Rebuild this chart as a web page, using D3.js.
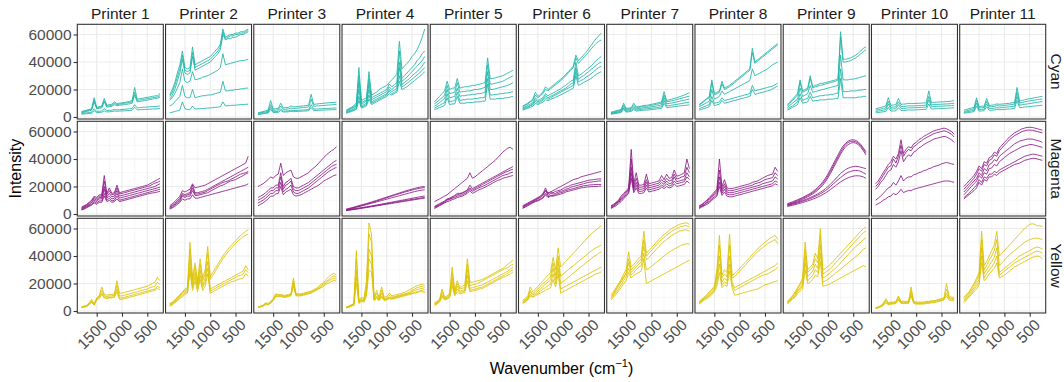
<!DOCTYPE html>
<html>
<head>
<meta charset="utf-8">
<script src="https://cdn.jsdelivr.net/npm/d3@7"></script>
<style>
  body { margin: 0; background: #fff; }
  text { font-family: "Liberation Sans", Arial, sans-serif; }
</style>
</head>
<body>
<svg id="chart" width="1064" height="382"></svg>
<script>
// Raman spectra of printer inks, one facet per printer (columns) and ink (rows).
// Every spectrum is sampled on the same wavenumber grid; intensities are in thousands of counts.
const wavenumbers = [1800,1750,1700,1650,1600,1550,1500,1450,1400,1350,1300,1250,1200,1150,1100,1050,
                     1000,950,900,850,800,750,700,650,600,550,500,450,400,350,300,250];
const printers = ["Printer 1","Printer 2","Printer 3","Printer 4","Printer 5","Printer 6",
                  "Printer 7","Printer 8","Printer 9","Printer 10","Printer 11"];
const inks = ["Cyan","Magenta","Yellow"];
const inkColors = ["#1fb3a6","#8c1a86","#dcc200"];
const xTicks = [1500,1000,500];
const xMinorTicks = [1750,1250,750,250];
const yTicks = [0,20000,40000,60000];
const yMinorTicks = [10000,30000,50000];

const cyanSpectra = [
  [ // Printer 1
    [4,4.5,5,5.5,6,14,7,7.5,8,13.5,8.5,9,9.3,11,9.8,10,10.3,10.6,11,11.3,12,21.5,13,13.3,13.6,14,14.3,14.6,15,15.3,15.6,17],
    [3.5,4,4.5,5,5.5,12.5,6.5,7,7.3,12,7.8,8.2,8.5,10,9,9.3,9.6,10,10.3,10.6,11,18,12,12.3,12.6,13,13.3,13.6,14,14.3,14.6,15.5],
    [3,3.5,4,4.5,5,11,6,6.3,6.6,11,7.2,7.5,7.8,9,8.2,8.5,8.8,9,9.3,9.6,10,16,11,11.3,11.6,12,12.3,12.6,13,13.3,13.6,14.5],
    [2.5,2.8,3,3.2,3.5,6,4,4.2,4.4,6,4.7,4.8,5,5.5,5.2,5.3,5.5,5.6,5.8,6,6.2,9,6.6,6.8,7,7.1,7.3,7.4,7.6,7.7,7.8,8],
    [2,2.2,2.4,2.6,2.8,4.5,3.2,3.3,3.5,4.5,3.7,3.8,4,4.3,4.2,4.3,4.4,4.5,4.6,4.7,4.9,7,5.2,5.3,5.4,5.5,5.6,5.7,5.8,5.9,6,6.2]
  ],
  [ // Printer 2
    [16,20,25,32,38,48,36,35,36,51,38,39,40,41,42,43,44,46,48,50,53,64,58,59,60,60,61,61,62,62,63,64],
    [15,18,23,29,35,45,34,33,34,47,36,37,38,39,40,41,42,44,46,48,51,62,57,58,59,59,60,60,61,61,62,63],
    [13,16,20,26,32,42,32,31,32,44,34,35,36,37,38,39,40,42,44,46,49,60,56,57,57,58,58,59,60,60,61,62],
    [12,14,17,21,25,35,26,25,26,33,27,27.5,28,29,29.5,30,31,32,33,34,36,46,38,38.5,39,39.5,40,40.5,41,41,41.5,42],
    [8,9,11,13,15,23,15,14,14,20,14,14.5,15,15.5,15.5,16,16,16.5,17,17.5,18,26,19,19,19.5,19.5,20,20,20.5,20.5,21,21],
    [3,3.5,4,4.5,5,11,6,5.5,5.5,8,5.8,6,6,6.2,6.3,6.5,6.6,6.8,7,7.2,7.5,11,8,8.2,8.4,8.5,8.6,8.8,9,9,9.2,9.3]
  ],
  [ // Printer 3
    [3,3.5,4,4.5,5,12,5.8,6,6.2,10,6.6,6.8,7,8,7.3,7.5,7.7,7.9,8.1,8.3,8.6,16.5,9.2,9.4,9.6,9.8,10,10.2,10.4,10.5,10.6,10.8],
    [2.7,3,3.4,3.8,4.2,9,4.8,5,5.2,8,5.5,5.7,5.9,6.5,6.2,6.4,6.5,6.7,6.9,7.1,7.3,13,7.8,8,8.1,8.3,8.4,8.6,8.7,8.8,9,9.1],
    [2.2,2.5,2.8,3.1,3.4,7,3.8,4,4.1,6,4.3,4.4,4.5,5,4.7,4.8,4.9,5,5.1,5.2,5.4,9,5.7,5.8,5.9,6,6.1,6.2,6.3,6.4,6.5,6.6],
    [1.8,2,2.3,2.6,2.9,5.5,3.2,3.3,3.4,4.8,3.6,3.7,3.8,4.1,3.9,4,4.1,4.2,4.3,4.4,4.5,7,4.7,4.8,4.9,5,5,5.1,5.2,5.3,5.3,5.4]
  ],
  [ // Printer 4
    [5,6,7,8.5,10,36,12,13,14,33,16,17,18,20,21,22,23,25,27,29,31,55,35,37,39,41,44,46,49,53,58,64],
    [4.5,5.5,6.5,7.5,9,30,10.5,11.5,12.5,28,14,15,16,17,18,19,20,24,22,23.5,25,48,28,30,32,34,36,38,41,43,46,48],
    [4,5,6,7,8,25,9.5,10.5,11.5,24,12.5,13.5,14.5,15.5,16.5,17.5,18.5,22,20,21.5,23,40,26,27.5,29,31,33,35,37,39,41,44],
    [3.5,4.3,5,6,7,20,8.3,9,10,20,11,12,13,14,15,16,17,20,18.5,19.5,21,36,23.5,25,26.5,28,30,31.5,33,35,37,40],
    [3,3.8,4.5,5.3,6.2,15,7.3,8,9,16,10,11,12,13,14,15,16,19,17,18,19.5,30,22,23,24.5,26,27.5,29,30.5,32,34,36],
    [2.8,3.3,4,4.7,5.5,12,6.5,7.2,8,13,9,10,11,12,13,14,15,17,16,17,18,26,20,21,22,23.5,25,26.5,28,29.5,31,33]
  ],
  [ // Printer 5
    [11,13,15,17,19,26,20,21,21,28,21,21.5,22,22,22.5,23,23,23.5,24,24.5,25,43,28,28,28.5,29,29.5,30,31,32,33,34],
    [9.5,11,12.5,14,16,23,17,17.5,18,25,18,18.5,18.5,19,19,19.5,20,20,20.5,21,21.5,38,24,24,24.5,25,25.5,26,27,28,29,30],
    [8,9,10.5,12,13.5,20,14,14.5,15,21,15,15.5,15.5,16,16,16.5,16.5,17,17,17.5,18,33,20,20,20.5,21,21.5,22,22.5,23,24,25],
    [6.5,7.5,8.5,9.5,10.5,17,11,11.5,12,18,12,12.5,12.5,13,13,13,13.5,13.5,14,14,14.5,28,16,16,16.5,16.5,17,17,17.5,17.5,18,18.5],
    [5.5,6,7,7.5,8.5,14,9,9.5,9.5,15,10,10,10,10.5,10.5,10.5,11,11,11,11.5,11.5,24,13,13,13,13.5,13.5,13.5,14,14,14.5,15]
  ],
  [ // Printer 6
    [8,9,10,11.5,13,18,15,16.5,18,22,20,21.5,23,24.5,26,27.5,29,31,33,35,37,45,41,43,45,47,49.5,52,54.5,57,59,61],
    [7.5,8.5,9.5,11,12,16,14,15.5,17,20,19,20.5,22,23.5,25,26.5,28,30,32,34,36,43,39,41,43,45,47,49.5,51.5,53.5,55,56],
    [6.5,7.5,8.5,9.5,10.5,14,12,13,14,17,15.5,16.5,17.5,18.5,19.5,20.5,22,23,24.5,26,27,40,30,31,32.5,34,35.5,37,39,41,42.5,44],
    [6,7,7.5,8.5,9.5,12.5,11,12,13,15.5,14,15,16,17,18,19,20,21,22.5,24,25,36,27.5,29,30,31.5,33,34.5,36,37.5,39,40],
    [5.5,6.3,7,8,8.8,11.5,10,11,12,14,13,14,15,16,17,18,19,20,21,22,23,33,25.5,26.5,27.5,29,30,31.5,33,34.5,36,37],
    [5,5.7,6.3,7,7.8,10,9,10,10.8,12.5,12,12.8,13.6,14.4,15.2,16,17,18,19,20,21,30,23,24,25,26,27,28,29.5,31,32,33]
  ],
  [ // Printer 7
    [3.5,4,4.5,5,5.5,10,6.2,6.5,6.8,10,7.3,7.6,7.9,8.5,8.5,8.8,9.2,9.6,10,10.5,11,18.5,12,12.5,13,13.5,14,14.7,15.3,16,16.8,17.7],
    [3,3.5,4,4.5,5,8.5,5.6,5.9,6.2,8.5,6.7,7,7.3,7.8,7.8,8.1,8.4,8.8,9.2,9.6,10,16,11,11.4,11.8,12.2,12.7,13.2,13.7,14.2,14.7,15.2],
    [2.7,3.1,3.5,3.9,4.3,7.5,4.9,5.2,5.5,7.5,5.9,6.2,6.4,6.8,6.9,7.1,7.4,7.7,8,8.4,8.7,14,9.5,9.9,10.2,10.6,11,11.4,11.8,12.2,12.6,13],
    [2.4,2.7,3,3.4,3.7,6.5,4.2,4.5,4.7,6.5,5.1,5.3,5.5,5.8,5.9,6.1,6.3,6.6,6.8,7.1,7.4,12,8,8.3,8.6,8.9,9.2,9.5,9.8,10.2,10.5,10.8],
    [2,2.3,2.6,2.9,3.2,5.5,3.6,3.8,4,5.5,4.3,4.5,4.7,5,5,5.2,5.4,5.6,5.8,6,6.3,10,6.8,7,7.2,7.5,7.7,8,8.2,8.4,8.6,8.8]
  ],
  [ // Printer 8
    [9,10.5,12,13.5,15,27,17,18,19,26,21,22,23,24.5,26,27.5,29,30.5,32,33.5,35,50,40,41.5,43,44.5,46,47.5,49,50.5,52,53.5],
    [8.5,10,11.5,13,14,25,16,17,18,24,20,21,22,23.5,25,26.5,28,29.5,31,32.5,34,47,39,40.5,42,43.5,45,46.5,48,49.5,51,52.5],
    [7.5,8.5,9.5,10.5,11.5,20,13,14,15,19,16.5,17.5,18.5,19.5,20.5,21.5,22.5,23.5,24.5,25.5,26.5,35,30,31,32,33,34,35,36.5,38,39,40],
    [6,6.8,7.5,8.3,9,15,10,10.5,11,14,12,12.5,13,13.5,14,14.5,15,15.5,16,16.5,17,23,19,19.5,20,20.5,21,21.5,22,22.5,23.5,24.5],
    [5,5.6,6.2,6.8,7.5,12,8.3,8.8,9.3,12,10,10.5,11,11.5,12,12.5,13,13.5,14,14.5,15,20,16.5,17,17.5,18,18.5,19,19.5,20.5,21.5,22.5]
  ],
  [ // Printer 9
    [9,11,13,15,17,27,19,20,21,30,22,23,23.5,24.5,24.5,25,25.5,26,26.5,27,28,62,42,42,42.5,43,44,45,46.5,48,50,51],
    [8,10,12,14,16,25,18,19,20,28,21,22,22.5,23,23.5,24,24.5,25,25.5,26,27,58,40,40,40.5,41,42,43,44.5,46,47.5,49],
    [7,8.5,10,11.5,13,21,15,16,17,23,18,18.5,19,19.5,20,20.5,21,21.5,22,22.5,23,45,27,27,27,27.5,27.5,28,28.5,29,29.5,30],
    [6,7,8,9.5,11,17,12,13,13.5,18,14,14.5,15,15.5,15.5,16,16,16.5,16.5,17,17.5,35,18.5,18.5,18.5,19,19,19,19.5,19.5,20,20],
    [5,6,7,8,9,14,10,10.5,11,15,11.5,12,12,12.5,12.5,12.5,13,13,13,13.5,13.5,28,14,14,14,14,14,14,14.5,14.5,15,15]
  ],
  [ // Printer 10
    [6,6.5,7,7.5,8,14,8.5,8.7,9,13.5,9.2,9.4,9.5,10,9.7,9.8,9.9,10,10.1,10.2,10.3,19,10.6,10.7,10.8,10.9,11,11.1,11.2,11.3,11.5,12],
    [5,5.4,5.8,6.2,6.6,11.5,7,7.2,7.4,11,7.6,7.7,7.8,8.2,8,8.1,8.2,8.3,8.4,8.5,8.6,15,8.9,9,9.1,9.2,9.3,9.4,9.5,9.6,9.8,10],
    [4,4.3,4.6,5,5.3,9.5,5.7,5.9,6,9,6.2,6.3,6.4,6.7,6.6,6.7,6.8,6.9,7,7.1,7.2,12.5,7.5,7.6,7.7,7.8,7.9,8,8.1,8.2,8.3,8.5],
    [3,3.2,3.5,3.8,4,7,4.3,4.4,4.5,6.8,4.7,4.8,4.9,5.2,5,5.1,5.2,5.3,5.4,5.5,5.6,9.5,5.8,5.9,6,6.1,6.2,6.3,6.4,6.5,6.6,6.8]
  ],
  [ // Printer 11
    [5,5.5,6,6.5,7,14,7.5,7.8,8,13.5,8.4,8.6,8.8,9.5,9.2,9.4,9.6,9.8,10,10.3,10.6,21.5,11.5,12,12.5,13,13.3,13.6,14,14.3,14.7,15],
    [4,4.5,5,5.5,6,12,6.5,6.7,7,11.5,7.3,7.5,7.7,8.3,8,8.2,8.4,8.6,8.8,9.1,9.4,18,10.2,10.6,11,11.4,11.7,12,12.3,12.6,12.9,13],
    [3.3,3.7,4.1,4.5,4.9,10,5.3,5.5,5.7,9.5,6,6.2,6.4,6.8,6.6,6.8,7,7.2,7.4,7.6,7.9,15,8.6,8.9,9.2,9.5,9.8,10.1,10.4,10.7,11,11.2],
    [2.7,3,3.3,3.6,3.9,8,4.2,4.4,4.6,7.5,4.8,5,5.1,5.5,5.3,5.4,5.5,5.7,5.8,6,6.2,12,6.8,7,7.2,7.4,7.6,7.8,8,8.2,8.4,8.6]
  ]
];

const magentaSpectra = [
  [ // Printer 1
    [5,6,7,8.5,10,13,12,14,14,28,15,19,15,15.5,21,15.5,16,16.5,17,17.5,18,18.5,19,19.5,20,20.5,21,22,23,24,25,26],
    [4.5,5.5,6.5,8,9.5,12,11,13,13,24,14,17,14,14.5,19,14.5,15,15.5,16,16.5,17,17.5,18,18.5,19,19.5,20,20.5,21.5,22.5,23,24],
    [4,5,6,7,8.5,11,10,12,12,20,12.5,15,12.5,13,17,13,13.5,14,14.5,15,15.5,16,16.5,17,17.5,18,18.5,19,19.5,20,21,22],
    [3.5,4.5,5.5,6.5,8,10,9,11,11,18,11.5,13,11,11.5,15,11.5,12,12.5,13,13.5,14,14.5,15,15.5,16,16.5,17,17.5,18,18.5,19,19.5],
    [3,4,5,6,7,9,8,9.5,9.5,15,10,11.5,9.5,10,13,10,10.5,11,11.5,12,12.5,13,13.5,14,14.5,15,15.5,16,16.5,17,17.5,18],
    [3,3.5,4.5,5.5,6.5,8,7,8.5,8.5,13,9,10,8.5,9,11,9,9.5,10,10.5,11,11.5,12,12.5,13,13.5,14,14.5,15,15.3,15.6,16,16.5]
  ],
  [ // Printer 2
    [6,7.5,9,11,13,17,16,17,18,22,19,19.5,20,20.5,21,22,23,24,25,26,27,28,29,30,31,32,33,34,35,36,37,42],
    [5,6.5,8,9.5,11.5,15,14,15,15.5,21,15.5,15.5,16,16.5,17,18,19,20,21,22,23,24,25,26,27,28,29,30,31,32,33,34],
    [4.5,6,7,8.5,10.5,14,13,14,14.5,19,14.5,14.5,15,15.5,16,17,18,19,20,21,22,23,23.5,24,25,26,27,28,29,29.5,30,31],
    [4,5,6.5,8,9.5,13,12,13,13,17,13.5,13.5,14,14.5,15,15.5,16.5,17.5,18.5,19.5,20.5,21,22,23,24,24.5,25,26,27,28,29,30],
    [3.5,4.5,5.5,7,8.5,11,10,11,11,14,11.5,11.5,12,12.5,13,13.5,14,14.5,15,15.5,16,16.5,17,17.5,18,18.5,19,19.5,20,20.5,21,22]
  ],
  [ // Printer 3
    [20,21,22,23.5,25,27,26,28,29,37,28,30,31,32,27,26,26,27,28,29,30,32,33.5,35,37,39,41,43,44.5,46,47,49],
    [12,13,14,15.5,17,19,19,21,21,30,20,23,24,26,20,19,19,20,21,22,23,24.5,26,27.5,29,30.5,32,33.5,35,36.5,38,39],
    [10,11,12,13.5,15,17,17,19,19,27,18,21,22,24,18,17,17,18,19,20,21,22.5,24,25.5,27,28.5,30,31.5,33,34.5,35.5,36],
    [8,9,10,11.5,13,15,15,17,17,23,16,18,19,21,16,15,15,16,17,18,19,20.5,22,23.5,25,26.5,28,29.5,31,32,33,34],
    [6,7,8,9.5,11,13,13,14.5,15,20,14,16,17,18,14,13,13.5,14,15,16,17,18,19,20,21,22.5,24,25,26,27,28,28.5]
  ],
  [ // Printer 4
    [3.6,4,4.5,5,5.5,6.1,6.6,7.1,7.6,8.2,8.7,9.3,9.9,10.5,11.1,11.7,12.3,12.9,13.5,14.1,14.7,15.3,15.9,16.5,17.1,17.6,18.1,18.6,19.1,19.5,19.8,20],
    [3.3,3.7,4.2,4.7,5.2,5.7,6.2,6.7,7.2,7.7,8.3,8.8,9.4,10,10.6,11.2,11.8,12.4,13,13.6,14.2,14.8,15.3,15.9,16.4,16.9,17.4,17.9,18.3,18.7,19,19.2],
    [3,3.4,3.8,4.3,4.8,5.3,5.8,6.3,6.8,7.3,7.8,8.3,8.8,9.3,9.8,10.3,10.8,11.3,11.8,12.3,12.8,13.3,13.8,14.3,14.8,15.3,15.8,16.3,16.7,17.1,17.4,17.6],
    [2.8,3.1,3.4,3.7,4,4.3,4.6,4.9,5.2,5.5,5.8,6.2,6.5,6.9,7.2,7.6,7.9,8.3,8.6,9,9.3,9.7,10,10.4,10.7,11.1,11.4,11.8,12.1,12.5,12.8,13.1],
    [2.6,2.9,3.2,3.5,3.8,4.1,4.4,4.7,5,5.3,5.6,5.9,6.2,6.5,6.9,7.2,7.5,7.8,8.1,8.5,8.8,9.1,9.4,9.7,10,10.3,10.6,10.9,11.2,11.5,11.8,12],
    [2.4,2.7,3,3.2,3.5,3.8,4.1,4.4,4.7,5,5.3,5.6,5.9,6.2,6.5,6.8,7.1,7.4,7.7,8,8.3,8.6,8.9,9.2,9.5,9.8,10.1,10.4,10.7,11,11.3,11.5]
  ],
  [ // Printer 5
    [9,10,11,12,13,14,15.5,17,18.5,20,21.5,23,24.5,26,30,26,27,28.5,30,31.5,33,34.5,36,37.5,39,41,43,45,46.5,48,48.5,47],
    [5.5,6.5,7.5,8.5,9.5,11,11.5,12.5,13.5,15,15,15.5,16.5,17.5,21,18.5,19.5,20.5,21.5,22.5,23.5,24.5,25.5,26.5,27.5,28.5,29.5,30.5,31.5,32.5,33.5,34.5],
    [5,6,7,8,9,10.5,11,12,13,14,14.5,15,16,17,19,17.5,18.5,19.5,20.5,21.5,22.5,23.5,24.5,25.5,26.5,27.5,28.5,29.5,30.5,31,32,32.5],
    [4.5,5.5,6.5,7.5,8.5,10,10.5,11.5,12,13,13.5,14,15,16,18,16.5,17.5,18.5,19.5,20,21,22,23,24,25,26,27,28,28.5,29,30,30.5],
    [4,5,6,7,8,9,9.5,10.5,11,12,12.5,13,14,15,17,15,16,17,18,18.5,19.5,20.5,21.5,22.5,23.5,24.5,25,26,26.5,27,27.5,28]
  ],
  [ // Printer 6
    [6,7,8,9,10,11,12,13,15,17,15.5,16,17,18,19,20,21,22,23,24,25,25.5,26,27,27.5,28,28.5,29,29.5,30,30.5,31],
    [5.5,6.5,7.5,8.5,9.5,10.5,11.5,12.5,14.5,19,14.5,16,15.5,16.5,17,17.5,18.5,19.5,20,21,21.5,22,22.5,23,23.5,24,24.5,24.8,25,25.3,25.5,25.5],
    [5,6,7,8,9,10,11,12,13.5,17,13.5,15,14.5,15,16,16.5,17,18,18.5,19.5,20,20.5,21,21.5,22,22.5,23,23.2,23.5,23.7,24,24],
    [4.5,5.5,6.5,7.5,8.5,9.5,10,11,12,15,12.5,13.5,13.5,14,15,15.5,16,17,17.5,18,18.5,19,19.5,20,20.5,20.7,21,21.2,21.3,21.5,21.5,21.5],
    [4,5,6,7,8,9,9.5,10.5,11.5,14,12,13,13,13.5,14,14.5,15,16,16.5,17,17.5,18,18.5,19,19.2,19.5,19.7,19.9,20,20,20.2,20.3]
  ],
  [ // Printer 7
    [6,7,8.5,10,13,15,17,19,47,22,30,21,21,21.5,29,22,22.5,23,23.5,24,28,25,29,26,26.5,32,27.5,28,29,30,40,33],
    [5.5,6.5,8,9.5,12,14,16,18,40,20,26,19.5,19.5,20,25,20.5,21,21.5,22,22.5,25,23,26,24,24.5,29,25.5,26,27,27.5,34,30],
    [5,6,7.5,9,11,13,15,17,34,18.5,23,18,18,18.5,23,19,19.5,20,20.5,21,23,21.5,24,22,22.5,27,23.5,24,24.5,25,30,27],
    [4.5,5.5,7,8.5,10,12,14,16,30,17,21,16.5,16.5,17,21,17.5,18,18.5,19,19.5,21,20,22,20.5,21,24,22,22.5,23,23.5,27,25],
    [4,5,6,7.5,9,11,13,15,26,15.5,19,15,15,15.5,19,16,16.5,17,17.5,18,19.5,18.5,20,19,19.5,22,20,20.5,21,21.5,24,22.5]
  ],
  [ // Printer 8
    [6,7,8.5,10,12,14,16,18,40,20,25,19,18.5,18.5,19,19.5,20,20.5,21,21.5,22,23,23.5,24,25,26,27,28,28.5,29,34,31],
    [5.5,6.5,8,9.5,11,13,15,17,32,18,22,17.5,17,17,17.5,18,18.5,19,19.5,20,20.5,21,22,22.5,23,24,25,25.5,26,26.5,30,28],
    [5,6,7,8.5,10,12,14,15.5,27,16.5,20,16,15.5,15.5,16,16.5,17,17.5,18,18.5,19,19.5,20,20.5,21,22,22.5,23,23.5,24,27,25.5],
    [4.5,5.5,6.5,8,9,11,12.5,14,23,15,18,14.5,14,14,14.5,15,15.5,16,16.5,17,17.5,18,18.5,19,19.5,20,20.5,21,21.5,22,24,23],
    [4,5,6,7,8,10,11.5,13,20,13.5,16,13,12.5,12.5,13,13.5,14,14.5,15,15.5,16,16.5,17,17.5,18,18.5,19,19.5,20,20.5,22,21]
  ],
  [ // Printer 9
    [7.5,8.2,8.9,9.6,10.4,11.2,12,13,14,15,16.3,17.7,19.3,21.2,23.5,26,29,32.5,36,39.5,43,46.5,49.5,51.5,53,53.8,54,53.5,52.5,50.5,48,45.5],
    [7,7.6,8.3,9,9.8,10.6,11.4,12.3,13.3,14.3,15.5,16.8,18.3,20.2,22.3,24.8,27.7,31,34.5,38,41.5,45,48,50.5,52,52.8,53,52.5,51.5,49.5,47,44.5],
    [6.5,7.1,7.7,8.4,9.1,9.9,10.7,11.6,12.5,13.5,14.6,15.9,17.4,19.1,21,23.5,26.3,29.5,33,36.5,40,43.5,46.5,49,50.5,51.5,52,51.5,50.5,48.5,46,43],
    [6.5,7,7.5,8,8.6,9.2,9.8,10.5,11.2,12,12.8,13.7,14.7,15.8,17,18.4,20,21.7,23.5,25.5,27.5,29.5,31,32.3,33.3,34,34.5,34.7,34.5,34,33.5,33],
    [6,6.5,7,7.5,8,8.6,9.2,9.8,10.5,11.2,12,12.8,13.7,14.7,15.8,17,18.4,20,21.7,23.3,25,26.5,28,29.3,30.3,31,31.5,31.7,31.5,31,30,29],
    [5.5,5.9,6.3,6.8,7.3,7.8,8.3,8.9,9.5,10.1,10.8,11.5,12.3,13.2,14.2,15.3,16.5,17.8,19.2,20.6,22,23.3,24.5,25.5,26.3,27,27.5,27.8,27.8,27.5,27,26]
  ],
  [ // Printer 10
    [22,24,27,30,33,36,38,42,40,44,54,44,47,49,48,51,52,54,55,56.5,57.5,58.5,59.5,60.5,61,61.5,62,62.5,62,61,60,58],
    [20,22,25,28,31,34,35,40,37,42,50,42,45,47,46,49,50,52,53,54.5,55.5,56.5,57.5,58.5,59,59.5,60,60.5,60,59,58,56],
    [18,20,23,25,28,31,32,36,34,38,46,38,41,43,42,45,46,48,49,50.5,51.5,52.5,53.5,54.5,55,55.5,56,56.5,56,55,54,52],
    [10,11.5,13,15,17,19,20,23,21,24,28,24,26,27,27,28.5,29,30,30.5,31.5,32,33,33.5,34.5,35,35.5,36.5,37,37.5,37,36.5,36],
    [6.5,7.5,8.5,10,11,12.5,13,15,14,15.5,18,15.5,16.5,17,17,18,18.5,19,19.5,20,20.5,21,21.5,22,22.5,23,23.5,24,24,24,23.5,23]
  ],
  [ // Printer 11
    [20,22,24,26,28,31,35,33,38,37,41,42,45,44,48,50,52,54,56,57.5,59,60,61,62,62.5,63,63,63,62.5,62,61.5,61],
    [18,20,22,24,26,29,33,31,36,35,39,40,43,42,46,48,50,52,54,55.5,57,58,59,60,60.5,61,61,61,60.5,60,59.5,59],
    [16,18,20,22,24,26,30,28,33,31.5,36,37,39.5,38.5,42,43.5,45,46.5,48,49.5,51,52,53,53.5,54,54.5,54.5,54.5,54,53.5,53,52],
    [14,16,18,20,22,24,28,26,30,29,33,33.5,36,35,38,39.5,41,42.5,44,45,46,47,48,49,49.5,50,50.5,50.5,50,49.5,49,48.5],
    [12,13.5,15,17,19,21,25,23,27,26,29,29,31,30,32,33,34,35,36,37,38,39,40,41,42,42.5,43,43.5,43.5,43,42.5,42],
    [11,12.5,14,15.5,17,19,23,21,25,24,27,27,29,28,30,31,32,33,34,35,36,36.5,37,38,39,39.5,40,40.5,40.5,40,39.5,39]
  ]
];

const yellowSpectra = [
  [ // Printer 1
    [3,3.5,4,6,8.5,5,9.5,11,17.5,12,11.5,12,12,12.5,22,13,13,13.5,14,14.5,15,15.5,16,16.5,17,17.5,18,19,20,21,24.5,22],
    [2.8,3.3,3.8,5.5,7.5,4.8,9,10.5,15,11,10.5,11,11,11.5,19,11,11,11.5,12,12.5,13,13.5,14,14.5,15,15.5,16,17,17.5,18,21,19],
    [2.6,3,3.5,5,7,4.5,8.5,10,13,10,9.5,10,10,10.5,16,9.5,9.5,10,10.5,11,11.5,12,12.5,13,13.5,14,14.5,15,15.5,16,18,17],
    [2.5,2.8,3.2,4.5,6.5,4.2,8,9,12,9.5,9,9.5,9.5,10,14,8.5,8.5,9,9.5,10,10.5,11,11.5,12,12.5,13,13.5,14,14.5,15,16.5,15.5]
  ],
  [ // Printer 2
    [5.5,6.5,8,10,12,14,16,17,50,24,35,22,38,24,30,47,25,28,31,34,37,40,42.5,45,47,49,51,53,55,56.5,58,59],
    [5,6,7.5,9.5,11.5,13.5,15,16,45,22,32,20,34,22,27,42,23,26,29,32,35,38,40.5,43,45,47,49,51,52.5,54,55,56],
    [4.5,5.5,7,9,11,12.5,14,15,38,19,28,18,30,19,24,36,16,17,18,19,20,21,22,23,24,25,26,27,28,29,33,30],
    [4,5,6.5,8,10,11.5,13,14,32,17,25,16,26,17,21,31,14.5,15.5,16.5,17.5,18.5,19.5,20.5,21.5,22.5,23.5,24.5,25.5,26,27,30,28],
    [3.5,4.5,6,7.5,9,10.5,12,13,28,15,22,14,23,15,18,27,13,14,15,16,17,18,19,20,21,21.5,22,23,23.5,24,27,25.5]
  ],
  [ // Printer 3
    [3,3.5,4.2,6,5.5,7,9,12.5,12,12,11.5,11.5,12,12.5,24,13,12.5,12.5,13,13.5,14,14.5,15.5,16.5,18,19.5,21,23,25,26.5,27.5,26],
    [2.8,3.3,4,5.5,5,6.5,8.5,12,11.5,11.5,11,11,11.5,12,22,12,12,12,12.5,13,13.5,14,15,16,17,18.5,20,21.5,23,24.5,25.5,24.5],
    [2.6,3.1,3.8,5,4.8,6,8,11,11,11,10.5,10.5,11,11.5,20,11.5,11.5,11.5,12,12.5,13,13.5,14.5,15.5,16.5,17.5,19,20.5,22,23,24,23],
    [2.4,2.9,3.5,4.5,4.5,5.5,7.5,10.5,10.5,10.5,10,10,10.5,11,18,11,11,11,11.5,12,12.5,13,14,15,16,17,18,19.5,20.5,21.5,22.5,21.5]
  ],
  [ // Printer 4
    [3,3.5,4.5,5.5,44,8,10,9,22,64,56,10,15,10,17.5,10,10.5,13,11,11.5,12,12.5,13,13.5,14.5,15.5,16.5,17.5,18.5,19,19.5,18.5],
    [2.8,3.3,4.2,5,38,7,9,8,18,56,50,9,13,9,15,9,9.5,11.5,10,10.5,11,11.5,12,12.5,13,14,15,16,17,17.5,18,17],
    [2.6,3.1,4,4.8,30,6.5,8,7.5,15,45,40,8.5,11,8.5,13,8.5,9,10,9.5,10,10.5,11,11.5,12,12.5,13,14,15,15.5,16,16.5,15.5],
    [2.4,2.9,3.7,4.5,25,6,7.5,7,13,38,34,8,10,8,11,8,8.5,9.5,9,9.5,10,10.5,11,11.5,12,12.5,13,13.5,14,14.5,15,14],
    [2.2,2.7,3.5,4.2,20,5.5,7,6.5,11,30,28,7.5,9,7.5,10,7.5,8,9,8.5,9,9.5,10,10.5,11,11.5,12,12.5,13,13.5,14,14,13.5]
  ],
  [ // Printer 5
    [6,7,8.5,16,10,11,13,32,15,22,17,18,19,38,21,21,21.5,22,22.5,23,24,25,26,27,28,29,30,31,32.5,34,35.5,37],
    [5.5,6.5,8,14,9.5,10,12,28,14,20,16,16.5,17,34,18.5,19,19.5,20,21,22,23,24,25,26,27,28,29,30,31,31.5,33,34],
    [5,6,7.5,12,9,9.5,11,24,13,18,14.5,15,15.5,30,16.5,17,17.5,18,18.5,19,20,21,22,23,24,25,26,27,28,29,30.5,32],
    [4.5,5.5,7,11,8.5,9,10.5,21,12,16,13.5,14,14.5,26,15,15.5,16,16.5,17,17.5,18.5,19.5,20.5,21.5,22.5,23.5,24.5,25.5,26.5,27.5,29,30],
    [4,5,6.5,10,8,8.5,10,18,11,14,12.5,13,13.5,22,14,14.5,15,15.5,16,16.5,17.5,18.5,19.5,20.5,21.5,22.5,23.5,24.5,25,26,27,28.5]
  ],
  [ // Printer 6
    [8,9,11,17.5,14,16,18,20,22,24,26,28,39,30,46,32,34,36,38,40,42,44,46,48,50,52,54,56,57.5,59,60.5,62],
    [7,8,10,15,12.5,14.5,16,18,20,21.5,23,25,35,26,40,25,27,28.5,30,31.5,33,34.5,36,37.5,39,40.5,42,43.5,45,46,47,48],
    [6.5,7.5,9,14,11.5,13,14.5,16,18,19.5,21,22.5,31,23,36,20,21.5,23,24.5,26,27.5,29,30.5,32,33.5,35,36.5,38,39.5,40.5,42,43],
    [6,7,8.5,12,10.5,12,13,14.5,16,17,18.5,19.5,27,20,31,16,17,18,19,20,21,22,23,24,25,26,27,28,29,30,31,32],
    [5.5,6.5,8,11,10,11,12,13,14,15,16,17,23,17.5,27,13,14,15,16,17,18,19,20,21,22,23,24,25,26,27,27.5,28.5]
  ],
  [ // Printer 7
    [12,14,17,20,23,27,30,43,32,34,36,38,40,58,42,44,46,48,50,52,54,55.5,57,58.5,60,61,62,63,63.5,64,64,63],
    [11,13,16,19,22,25,28,38,30,32,34,36,38,52,40,42,44,46,48,50,52,53.5,55,56.5,58,59,60,61,61.5,62,62,61],
    [10,12,15,18,21,24,27,35,28,30,32,34,36,47,37,39,41,43,45,47,49,50.5,52,53.5,55,56,57,58,58.5,59,59,58],
    [9,11,13.5,16,19,22,25,31,26,28,30,32,33,42,30,31,32.5,34,35.5,37,38.5,40,41.5,43,44,45,46,47,48,48.5,49,48.5],
    [8,10,12,14.5,17,20,22,28,24,26,27,28,29,38,20,21,22,23,24,25,26,27,28,29,30,31,32,33,34,35,36,37]
  ],
  [ // Printer 8
    [7,8.5,10,12,14,16,18,30,55,26,30,28,56,26,27,29,31,33,35,37,39,41,43,45,47,48.5,50,51.5,53,54,55,52],
    [6.5,8,9.5,11,13,15,17,27,48,24,27,25,48,24,25,27,29,31,33,35,37,39,41,43,44.5,46,47.5,49,50,51,52,49],
    [6,7.5,9,10.5,12,14,16,24,40,21,24,22,40,21,17,18,19,20,21,22,23,24,25,26,27,28,29,30,31,32,33,35],
    [5.5,7,8.5,10,11,13,15,21,34,19,21,20,34,19,15,16,17,18,19,20,21,22,23,24,25,26,26.5,27,28,29,30,32],
    [5,6.5,8,9,10,12,14,18,28,17,19,18,29,17,11.5,12,12.5,13,13.5,14,14.5,15,15.5,16,17,18,19,19.5,20,21,21.5,22]
  ],
  [ // Printer 9
    [7,9,11,14,17,20,24,50,30,32,34,42,38,60,30,31,32.5,34,36,38,40,42,44,46,48,50,52,54,56,58,60,61],
    [6.5,8.5,10.5,13,16,19,22,45,28,30,32,38,35,55,27,28,29.5,31,33,35,37,39,41,43,45,47,49,51,53,55,57,58],
    [6,8,10,12,15,17,20,40,25,27,29,34,31,48,24,25,26.5,28,29.5,31,33,35,37,39,41,43,45,47,48.5,50,52,53],
    [5.5,7.5,9,11,14,16,18,35,22,24,26,30,28,42,21,22,23,24.5,26,27.5,29,30.5,32,33.5,35,36.5,38,39.5,41,43,45,46],
    [5,7,8.5,10,13,14.5,16,30,20,21,23,26,25,36,18,18.5,19,20,21,22,23,24,25,26,27,28,29,30,31,32,33,32]
  ],
  [ // Printer 10
    [2.5,3,4,5.5,9,6,6.5,6.5,7,11,7,7,7,7,17.5,7,6.5,6.5,6.5,6.5,7,7,7.5,7.5,8,8.5,9,9.5,20,11,10,10],
    [2.3,2.8,3.6,5,8,5.5,6,6,6.5,10,6.5,6.5,6.5,6.5,15,6.5,6,6,6,6,6.5,6.5,7,7,7.5,8,8.5,9,16,10,9,9],
    [2,2.5,3.3,4.5,7,5,5.5,5.5,6,9,6,6,6,6,13,6,5.5,5.5,5.5,5.5,6,6,6.5,6.5,7,7.5,8,8.5,13,9,8.5,8.5],
    [1.8,2.3,3,4,6,4.5,5,5,5.5,8,5.5,5.5,5.5,5.5,11,5.5,5,5,5,5,5.5,5.5,6,6,6.5,7,7.5,8,11,8,7.5,7.5]
  ],
  [ // Printer 11
    [10,12,14,17,20,24,28,58,33,36,40,44,48,58,40,42,44,46,48,50,52,54,56,58,60,61.5,63,63.5,63,62,62,61.5],
    [9,11,13,16,19,22,26,52,30,33,37,40,44,52,33,35,37,39,41,42.5,44,45.5,47,48.5,50,51,52,52.5,53,53,52.5,52],
    [8,10,12,14.5,17,20,23,46,27,30,33,36,39,46,28,29.5,31,32.5,34,35.5,37,38.5,40,41,42,43,44,45,46,46.5,46,45],
    [7,9,11,13,15.5,18,21,40,24,27,30,32,35,40,26,27.5,29,30.5,32,33.5,35,36,37,38,39,40,41,42,43,43.5,43,42],
    [6,8,10,12,14,16,19,35,22,24,27,29,31,35,24,25,26,27.5,29,30.5,32,33,34,35,36,37,38,39,39.5,40,39.5,38]
  ]
];

const spectraByInk = [cyanSpectra, magentaSpectra, yellowSpectra];

// Facet geometry
const plotLeft = 77.3, plotTop = 24.3;
const panelW = 86, panelH = 94.7;
const colStep = 88.24, rowStep = 97;

const x = d3.scaleLinear().domain([1883, 184]).range([0, panelW]);
const y = d3.scaleLinear().domain([-1450, 67420]).range([panelH, 0]);

const line = d3.line()
  .defined((d, i) => i < wavenumbers.length)
  .x((d, i) => x(wavenumbers[i]))
  .y(d => y(d * 1000));

const tickFont = "'Liberation Sans', Arial, sans-serif";
const svg = d3.select("#chart");
svg.append("rect").attr("width", 1064).attr("height", 382).attr("fill", "#fff");

inks.forEach((ink, r) => {
  printers.forEach((printer, c) => {
    const g = svg.append("g")
      .attr("transform", `translate(${plotLeft + c * colStep},${plotTop + r * rowStep})`);

    g.append("rect").attr("width", panelW).attr("height", panelH).attr("fill", "#fff");

    // minor grid
    g.selectAll(".gxm").data(xMinorTicks).join("line")
      .attr("x1", d => x(d)).attr("x2", d => x(d)).attr("y1", 0).attr("y2", panelH)
      .attr("stroke", "#f0f0f0").attr("stroke-width", 0.55);
    g.selectAll(".gym").data(yMinorTicks).join("line")
      .attr("y1", d => y(d)).attr("y2", d => y(d)).attr("x1", 0).attr("x2", panelW)
      .attr("stroke", "#f0f0f0").attr("stroke-width", 0.55);
    // major grid
    g.selectAll(".gx").data(xTicks).join("line")
      .attr("x1", d => x(d)).attr("x2", d => x(d)).attr("y1", 0).attr("y2", panelH)
      .attr("stroke", "#ebebeb").attr("stroke-width", 1.1);
    g.selectAll(".gy").data(yTicks).join("line")
      .attr("y1", d => y(d)).attr("y2", d => y(d)).attr("x1", 0).attr("x2", panelW)
      .attr("stroke", "#ebebeb").attr("stroke-width", 1.1);

    // spectra
    g.selectAll(".spec").data(spectraByInk[r][c]).join("path")
      .attr("class", "spec")
      .attr("d", line)
      .attr("fill", "none")
      .attr("stroke", inkColors[r])
      .attr("stroke-width", 0.85)
      .attr("stroke-linejoin", "round");

    // panel border
    g.append("rect").attr("width", panelW).attr("height", panelH)
      .attr("fill", "none").attr("stroke", "#333333").attr("stroke-width", 1.1);

    // y axis on first column
    if (c === 0) {
      const ay = g.append("g").call(
        d3.axisLeft(y).tickValues(yTicks).tickSize(3.7).tickPadding(2).tickFormat(d3.format("d")));
      ay.select(".domain").remove();
      ay.selectAll("line").attr("stroke", "#333333").attr("stroke-width", 1.1);
      ay.selectAll("text").attr("fill", "#4d4d4d").style("font-size", "15.5px")
        .style("font-family", tickFont);
    }

    // x axis on bottom row
    if (r === inks.length - 1) {
      const ax = g.append("g").attr("transform", `translate(0,${panelH})`).call(
        d3.axisBottom(x).tickValues(xTicks).tickSize(3.7).tickPadding(2).tickFormat(d3.format("d")));
      ax.select(".domain").remove();
      ax.selectAll("line").attr("stroke", "#333333").attr("stroke-width", 1.1);
      ax.selectAll("text")
        .attr("fill", "#4d4d4d").style("font-size", "15.5px")
        .style("font-family", tickFont)
        .attr("text-anchor", "end")
        .attr("dy", null)
        .attr("y", null)
        .attr("transform", "translate(3,5) rotate(-45)")
        .attr("dominant-baseline", "hanging");
    }

    // column strip
    if (r === 0) {
      svg.append("text")
        .attr("x", plotLeft + c * colStep + panelW / 2).attr("y", 13)
        .attr("text-anchor", "middle").attr("dominant-baseline", "central")
        .attr("fill", "#1a1a1a").style("font-size", "15.5px")
        .text(printer);
    }
  });

  // row strip on the right
  const cy = plotTop + r * rowStep + panelH / 2;
  svg.append("text")
    .attr("transform", `translate(1056,${cy}) rotate(90)`)
    .attr("text-anchor", "middle").attr("dominant-baseline", "central")
    .attr("fill", "#1a1a1a").style("font-size", "15.5px")
    .text(ink);
});

// axis titles
const plotRight = plotLeft + (printers.length - 1) * colStep + panelW;
const xTitle = svg.append("text")
  .attr("x", (plotLeft + plotRight) / 2).attr("y", 374)
  .attr("text-anchor", "middle").attr("fill", "#000").style("font-size", "16px");
xTitle.append("tspan").text("Wavenumber (cm");
xTitle.append("tspan").attr("dy", -7).style("font-size", "11px").text("\u22121");
xTitle.append("tspan").attr("dy", 7).text(")");

svg.append("text")
  .attr("transform", `translate(15,${plotTop + (inks.length * rowStep - (rowStep - panelH)) / 2}) rotate(-90)`)
  .attr("text-anchor", "middle").attr("dominant-baseline", "central")
  .attr("fill", "#000").style("font-size", "16px")
  .text("Intensity");
</script>
</body>
</html>
